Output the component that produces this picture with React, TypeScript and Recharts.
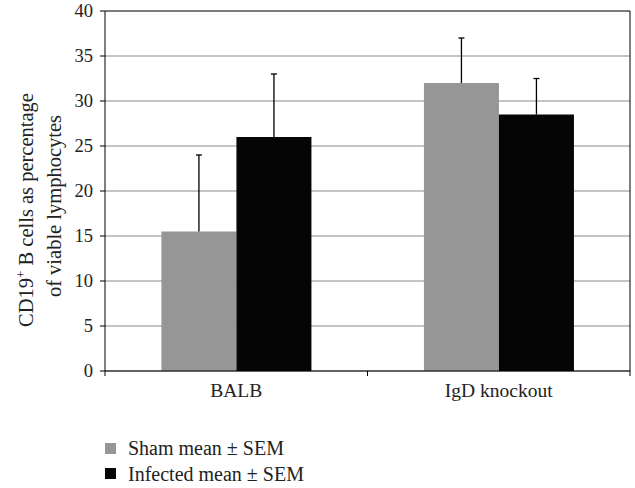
import { Bar, BarChart, CartesianGrid, ReferenceLine, XAxis, YAxis } from 'recharts'

const categories = ['BALB', 'IgD knockout']
const shamMean = [15.5, 32]
const shamSem = [8.5, 5]
const infectedMean = [26, 28.5]
const infectedSem = [7, 4]
const yTicks = [0, 5, 10, 15, 20, 25, 30, 35, 40]

const data = categories.map((name, i) => ({
  name,
  sham: shamMean[i],
  shamSem: shamSem[i],
  infected: infectedMean[i],
  infectedSem: infectedSem[i],
}))

const FONT = 'Liberation Serif'
const PLOT_BOTTOM = 371
const HALF_BAND = 131.25

const CategoryTick = (props: any) => {
  const { x, payload, index } = props
  return (
    <g>
      {index === 0 && <line x1={x - HALF_BAND} y1={PLOT_BOTTOM} x2={x - HALF_BAND} y2={PLOT_BOTTOM + 5} stroke="#000" />}
      <line x1={x + HALF_BAND} y1={PLOT_BOTTOM} x2={x + HALF_BAND} y2={PLOT_BOTTOM + 5} stroke="#000" />
      <text x={x} y={PLOT_BOTTOM + 26} textAnchor="middle" fill="#222" fontSize={19.5} fontFamily={FONT}>
        {payload.value}
      </text>
    </g>
  )
}

const YTick = (props: any) => {
  const { x, y, payload } = props
  return (
    <text x={x} y={y} dy={6} textAnchor="end" fill="#222" fontSize={18.5} fontFamily={FONT}>
      {payload.value}
    </text>
  )
}

const YLabel = () => (
  <g fontFamily={FONT} fill="#222" fontSize={20.5}>
    <text x={0} y={0} transform="translate(33, 210) rotate(-90)" textAnchor="middle">
      CD19<tspan fontSize={13} dy={-8}>+</tspan>
      <tspan dy={8}> B cells as percentage</tspan>
    </text>
    <text x={0} y={0} transform="translate(61, 206) rotate(-90)" textAnchor="middle">
      of viable lymphocytes
    </text>
  </g>
)

// bar with a one-sided (upward) SEM whisker, sized from the bar's own scale
const barWithSem = (semKey: string, valueKey: string) => (props: any) => {
  const { x, y, width, height, fill, payload } = props
  const perUnit = height / payload[valueKey]
  const top = y - payload[semKey] * perUnit
  const cx = x + width / 2
  return (
    <g>
      <rect x={x} y={y} width={width} height={height} fill={fill} />
      <line x1={cx} y1={y} x2={cx} y2={top} stroke="#000" strokeWidth={1.3} />
      <line x1={cx - 3} y1={top} x2={cx + 3} y2={top} stroke="#000" strokeWidth={1.3} />
    </g>
  )
}

const legendRow = { display: 'flex', alignItems: 'center', height: 20, marginBottom: 5.5 }
const legendBox = { display: 'inline-block', width: 11, height: 11, marginRight: 12 }

export default function App() {
  return (
    <div style={{ position: 'absolute', left: 0, top: 0, width: 635, height: 488, background: '#fff', fontFamily: FONT }}>
      <BarChart width={635} height={488} data={data} margin={{ top: 11, right: 0, left: 0, bottom: 87 }} barCategoryGap="21.5%" barGap={0}>
        <CartesianGrid vertical={false} stroke="#8a8a8a" strokeWidth={1.2} yAxisId="left" />
        <XAxis dataKey="name" axisLine={{ stroke: '#000' }} tickLine={false} height={30} tick={<CategoryTick />} interval={0} />
        <YAxis
          yAxisId="left"
          width={105}
          domain={[0, 40]}
          ticks={yTicks}
          axisLine={{ stroke: '#000' }}
          tickLine={{ stroke: '#000' }}
          tickSize={5}
          tickMargin={7}
          tick={<YTick />}
          label={<YLabel />}
        />
        <YAxis yAxisId="right" orientation="right" width={5} domain={[0, 40]} tick={false} tickLine={false} axisLine={{ stroke: '#000' }} />
        <ReferenceLine yAxisId="left" y={40} stroke="#333" />
        <Bar yAxisId="left" dataKey="sham" fill="#969696" isAnimationActive={false} shape={barWithSem('shamSem', 'sham')} />
        <Bar yAxisId="left" dataKey="infected" fill="#050505" isAnimationActive={false} shape={barWithSem('infectedSem', 'infected')} />
      </BarChart>
      <div style={{ position: 'absolute', left: 105, top: 438, fontSize: 20, lineHeight: '20px', color: '#222' }}>
        <div style={legendRow}>
          <span style={{ ...legendBox, background: '#969696' }} />
          Sham mean ± SEM
        </div>
        <div style={legendRow}>
          <span style={{ ...legendBox, background: '#050505' }} />
          Infected mean ± SEM
        </div>
      </div>
    </div>
  )
}
